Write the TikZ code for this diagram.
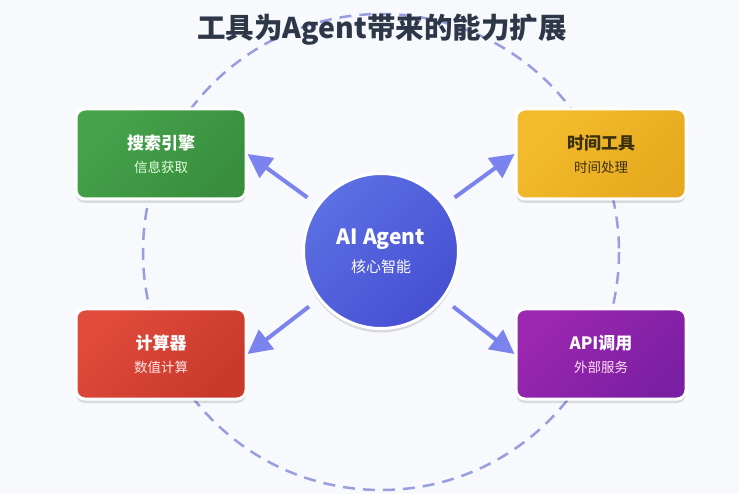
\documentclass[tikz,border=0pt]{standalone}
\usepackage{fontspec}
\setmainfont{Noto Sans CJK SC}
\usepackage{xcolor}
\usetikzlibrary{positioning,arrows.meta,shadows}

\definecolor{pagebg}{HTML}{F7F9FC}
\definecolor{titlegray}{HTML}{2D3748}
\definecolor{ringblue}{HTML}{989EDE}
\definecolor{arrowblue}{HTML}{7B84EE}
\definecolor{agentlight}{HTML}{5C6FE3}
\definecolor{agentdark}{HTML}{4650D2}
\definecolor{greenlight}{HTML}{46A34C}
\definecolor{greendark}{HTML}{388E3C}
\definecolor{yellowlight}{HTML}{F4BC2C}
\definecolor{yellowdark}{HTML}{E6A91F}
\definecolor{redlight}{HTML}{E14B3B}
\definecolor{reddark}{HTML}{C8392C}
\definecolor{purplelight}{HTML}{9C27B0}
\definecolor{purpledark}{HTML}{7B1FA2}
\definecolor{yellowtext}{HTML}{3A300E}

\begin{document}
\begin{tikzpicture}[x=1pt, y=-1pt,
        tool/.style={draw=white, line width=3pt, rounded corners=9pt,
            minimum width=170pt, minimum height=90pt, align=center,
            text=white,
            drop shadow={shadow xshift=0pt, shadow yshift=-4pt, opacity=0.12, fill=black}},
        core/.style={circle, draw=white, line width=3pt, minimum size=155pt,
            align=center, text=white, left color=agentlight, right color=agentdark,
            shading angle=45,
            drop shadow={shadow xshift=0pt, shadow yshift=-4pt, opacity=0.12, fill=black}},
        ring/.style={draw=ringblue, line width=2.5pt, dash pattern=on 12pt off 8pt},
        flow/.style={draw=arrowblue, line width=4pt, shorten <=12pt,
            -{Triangle[length=24pt, width=24pt]}}
    ]
        \useasboundingbox[fill=pagebg] (0,0) rectangle (739,494);

        % Outer ring
        \draw[ring] (381,252) circle[radius=238];

        % Title
        \node[text=titlegray, font=\bfseries\fontsize{28.5}{33}\selectfont] (title) at (382,30) {工具为Agent带来的能力扩展};

        % Center
        \node[core] (agent) at (381,251)
            {{\bfseries\fontsize{21}{25}\selectfont AI Agent}\\[9pt]{\fontsize{15}{18}\selectfont 核心智能}};

        % Tools
        \node[tool, left color=greenlight, right color=greendark, shading angle=45] (search) at (161,154)
            {{\bfseries\fontsize{17}{20}\selectfont 搜索引擎}\\[9pt]{\fontsize{13.5}{16}\selectfont\color{white!88!green} 信息获取}};
        \node[tool, left color=yellowlight, right color=yellowdark, shading angle=45,
            text=yellowtext] (timetool) at (601,154)
            {{\bfseries\fontsize{17}{20}\selectfont 时间工具}\\[9pt]{\fontsize{13.5}{16}\selectfont 时间处理}};
        \node[tool, left color=redlight, right color=reddark, shading angle=45] (calc) at (161,354)
            {{\bfseries\fontsize{17}{20}\selectfont 计算器}\\[9pt]{\fontsize{13.5}{16}\selectfont\color{white!90!red} 数值计算}};
        \node[tool, left color=purplelight, right color=purpledark, shading angle=45] (api) at (601,354)
            {{\bfseries\fontsize{17}{20}\selectfont API调用}\\[9pt]{\fontsize{13.5}{16}\selectfont\color{white!88!magenta} 外部服务}};

        % Arrows
        \draw[flow] (agent) -- (search.east);
        \draw[flow] (agent) -- (timetool.west);
        \draw[flow] (agent) -- (calc.east);
        \draw[flow] (agent) -- (api.west);
\end{tikzpicture}
\end{document}
